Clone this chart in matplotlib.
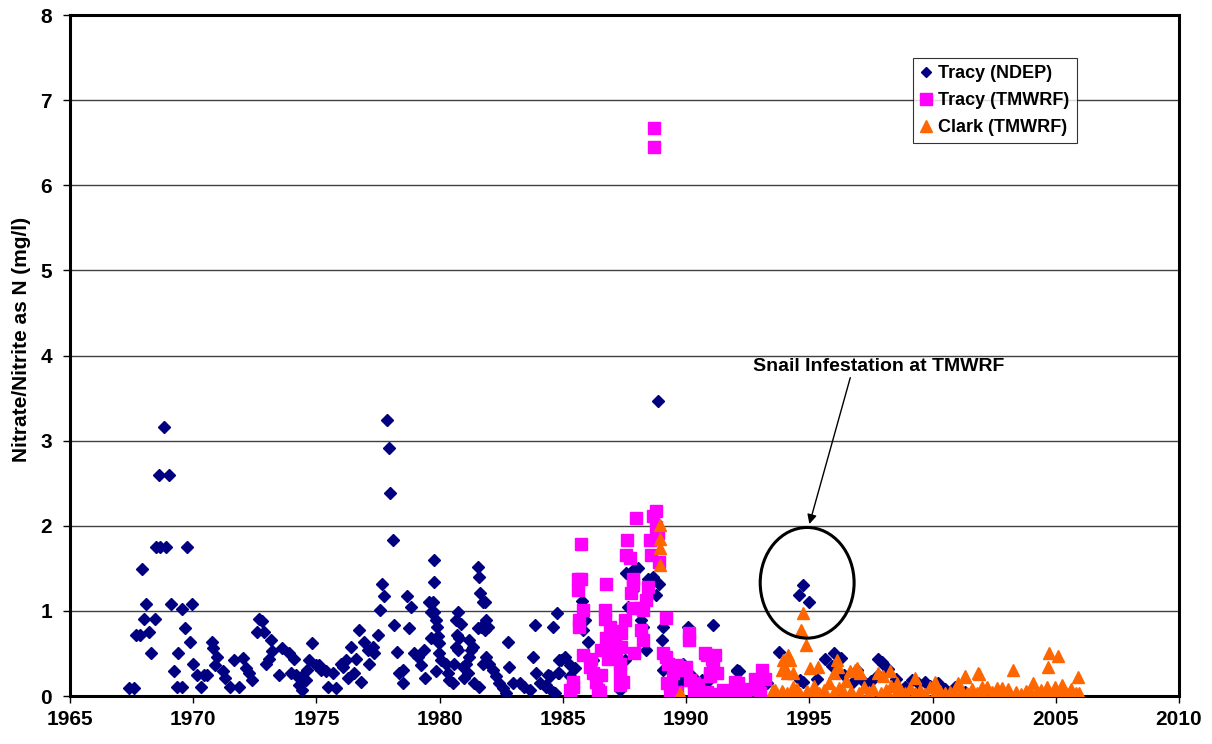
import numpy as np
import matplotlib.pyplot as plt
from matplotlib.patches import Ellipse

plt.rcParams['font.family'] = ['Liberation Sans', 'DejaVu Sans']
plt.rcParams['font.weight'] = 'bold'

# Tracy (NDEP) samples: decimal year, mg/l
ndep_year = [1967.4, 1967.6, 1968.81, 1968.59, 1969.03, 1968.47, 1968.67, 1968.9, 1969.76,
             1967.93, 1968.09, 1969.1, 1969.93, 1969.53, 1968.0, 1968.43, 1967.68, 1967.82, 1968.2, 1969.66,
             1968.29, 1969.85, 1969.39, 1969.2, 1969.35, 1969.55,
             1970.0, 1970.16, 1970.43, 1970.57, 1970.3, 1970.75, 1970.8, 1970.97, 1970.9, 1971.2, 1971.3,
             1971.5, 1971.85, 1971.65, 1972.0, 1972.13, 1972.26, 1972.4,
             1972.67, 1972.8, 1972.57, 1972.87, 1973.17, 1973.2, 1973.08, 1972.97,
             1973.62, 1973.89, 1974.09, 1973.48, 1973.96, 1974.16, 1974.43, 1974.3, 1974.43,
             1974.8, 1974.7, 1974.97, 1974.63, 1974.57,
             1975.11, 1975.17, 1975.38, 1975.65, 1975.45, 1975.78,
             1975.99, 1976.06, 1976.19, 1976.4, 1976.6, 1976.26, 1976.53, 1976.8, 1976.73,
             1976.93, 1977.07, 1977.28, 1977.35, 1977.14, 1977.48, 1977.57, 1977.64, 1977.74,
             1977.85, 1977.93, 1977.98, 1978.09, 1978.15, 1978.25, 1978.36, 1978.5, 1978.5,
             1978.66, 1978.83, 1978.76, 1978.97, 1979.1, 1979.24, 1979.38, 1979.42,
             1979.78, 1979.76, 1979.58, 1979.72, 1979.65, 1979.78, 1979.85, 1979.89,
             1979.65, 1979.92, 1979.99, 1979.99, 1980.05, 1979.85,
             1980.26, 1980.33, 1980.39, 1980.53, 1980.6,
             1980.73, 1980.66, 1980.87, 1980.7, 1980.8, 1980.66, 1980.73,
             1980.93, 1981.07, 1981.14, 1981.0, 1981.2, 1981.27, 1981.34, 1981.2,
             1981.41, 1981.61, 1981.57, 1981.61, 1981.65, 1981.75, 1981.85,
             1981.54, 1981.68, 1981.82, 1981.88, 1981.95,
             1981.75, 1981.88, 1982.02, 1982.15, 1982.29, 1982.42, 1982.56, 1982.7,
             1982.76, 1982.83, 1982.97, 1983.24, 1983.44, 1983.65,
             1983.78, 1983.91, 1983.85, 1984.05, 1984.32, 1984.46, 1984.59,
             1984.59, 1984.76, 1984.86, 1984.8,
             1985.07, 1984.93, 1985.27, 1985.47, 1984.86, 1984.39, 1984.32, 1984.66, 1985.27,
             1988.86, 1985.79, 1985.88, 1985.81, 1986.02, 1986.22,
             1987.03, 1986.83, 1987.51, 1987.33,
             1987.57, 1987.85, 1988.05, 1987.64, 1987.85,
             1988.18, 1988.25, 1988.39, 1988.46, 1988.66, 1988.9, 1988.77,
             1989.07, 1989.04,
             1990.08, 1991.1, 1992.14, 1990.83, 1990.22, 1989.88,
             1989.08, 1989.89, 1992.08, 1989.73, 1990.64, 1990.03,
             1994.74, 1994.56, 1994.99,
             1993.75, 1995.98, 1995.64, 1992.06, 1997.8, 1998.0, 1994.63, 1994.76,
             1997.94, 1997.8, 1996.93, 1997.26, 1999.16, 1999.7, 1996.72,
             1995.3, 1995.9, 1996.3, 1996.4, 1997.0, 1997.5, 1998.2, 1998.5, 1998.9,
             1999.4, 1999.9, 2000.2, 2000.5, 2000.9, 2001.3, 1993.0, 1993.3]
ndep_value = [0.09, 0.09, 3.16, 2.60, 2.60, 1.75, 1.75, 1.75, 1.75,
              1.49, 1.08, 1.08, 1.08, 1.02, 0.90, 0.90, 0.72, 0.72, 0.75, 0.80,
              0.50, 0.63, 0.50, 0.29, 0.10, 0.10,
              0.38, 0.25, 0.25, 0.25, 0.10, 0.64, 0.56, 0.46, 0.36, 0.29, 0.21,
              0.10, 0.10, 0.42, 0.45, 0.33, 0.27, 0.19,
              0.90, 0.88, 0.75, 0.75, 0.66, 0.53, 0.44, 0.38,
              0.56, 0.50, 0.44, 0.25, 0.27, 0.25, 0.23, 0.13, 0.07,
              0.62, 0.42, 0.36, 0.31, 0.19,
              0.36, 0.31, 0.29, 0.27, 0.11, 0.09,
              0.38, 0.34, 0.42, 0.58, 0.44, 0.21, 0.27, 0.17, 0.78,
              0.64, 0.54, 0.58, 0.50, 0.38, 0.72, 1.01, 1.32, 1.17,
              3.24, 2.91, 2.39, 1.83, 0.84, 0.52, 0.27, 0.31, 0.15,
              1.18, 1.04, 0.80, 0.50, 0.46, 0.36, 0.54, 0.21,
              1.60, 1.34, 1.11, 1.11, 0.99, 0.99, 0.89, 0.81,
              0.68, 0.70, 0.62, 0.50, 0.42, 0.29,
              0.38, 0.27, 0.19, 0.15, 0.38,
              0.99, 0.89, 0.85, 0.72, 0.68, 0.58, 0.54,
              0.34, 0.38, 0.27, 0.21, 0.46, 0.54, 0.58, 0.66,
              0.15, 0.11, 1.51, 1.40, 1.21, 1.11, 1.11,
              0.80, 0.81, 0.78, 0.89, 0.81,
              0.38, 0.46, 0.38, 0.31, 0.23, 0.15, 0.09, 0.03,
              0.64, 0.34, 0.15, 0.15, 0.11, 0.07,
              0.46, 0.27, 0.84, 0.15, 0.11, 0.23, 0.05,
              0.81, 0.98, 0.42, 0.27,
              0.46, 0.42, 0.36, 0.33, 0.27, 0.25, 0.13, 0.03, 0.23,
              3.47, 1.12, 0.89, 0.78, 0.64, 0.42,
              0.70, 0.54, 0.42, 0.07,
              1.45, 1.48, 1.50, 1.05, 1.25,
              0.89, 0.81, 0.54, 1.38, 1.40, 1.32, 1.19,
              0.81, 0.66,
              0.81, 0.83, 0.29, 0.17, 0.23, 0.19,
              0.31, 0.38, 0.29, 0.19, 0.19, 0.23,
              1.30, 1.19, 1.11,
              0.52, 0.51, 0.43, 0.30, 0.43, 0.38, 0.19, 0.17,
              0.40, 0.25, 0.31, 0.15, 0.19, 0.17, 0.15,
              0.20, 0.35, 0.45, 0.25, 0.22, 0.18, 0.32, 0.20, 0.10,
              0.15, 0.12, 0.15, 0.08, 0.10, 0.05, 0.10, 0.15]

# Tracy (TMWRF)
tmwrf_year = [1988.7, 1988.7, 1988.79, 1988.66, 1987.98, 1988.79, 1988.86, 1988.52, 1985.74, 1987.6,
              1987.57, 1987.74, 1988.59, 1988.9,
              1987.85, 1987.85, 1985.61, 1985.74, 1985.61, 1986.73, 1988.46, 1987.78, 1988.39,
              1987.85, 1988.12, 1988.25, 1987.51, 1985.81, 1986.69, 1986.69, 1985.67, 1985.67,
              1986.89, 1987.16, 1987.37, 1989.2, 1988.18, 1988.25,
              1986.76, 1987.1, 1986.89, 1987.37, 1986.56, 1987.16, 1986.83,
              1990.12, 1990.12,
              1985.81, 1986.15, 1986.09, 1986.22, 1986.56, 1986.36, 1986.42, 1985.41, 1985.41,
              1987.3, 1987.3, 1987.44, 1987.3,
              1989.07, 1989.2, 1989.27, 1989.61, 1989.47, 1989.74,
              1989.4, 1989.34, 1989.61, 1990.01, 1990.15, 1990.49, 1990.83, 1991.17, 1991.1, 1991.24,
              1990.97, 1990.83, 1991.5, 1991.78, 1992.11, 1992.18,
              1990.77, 1991.04, 1989.62, 1990.97, 1993.07, 1991.99, 1989.22, 1990.3,
              1989.5, 1990.3, 1990.7, 1991.3, 1991.6, 1992.0, 1992.4, 1992.6, 1992.9, 1993.0,
              1993.2, 1992.8, 1985.3, 1987.9, 1986.5]
tmwrf_value = [6.67, 6.45, 2.17, 2.11, 2.09, 1.99, 1.91, 1.83, 1.78, 1.83,
               1.66, 1.62, 1.66, 1.58,
               1.38, 1.32, 1.38, 1.38, 1.25, 1.32, 1.28, 1.21, 1.13,
               1.03, 1.03, 1.01, 0.89, 1.01, 1.01, 0.91, 0.89, 0.81,
               0.81, 0.76, 0.74, 0.92, 0.78, 0.66,
               0.68, 0.62, 0.58, 0.58, 0.54, 0.50, 0.44,
               0.74, 0.66,
               0.48, 0.44, 0.34, 0.27, 0.25, 0.17, 0.07, 0.17, 0.11,
               0.38, 0.27, 0.17, 0.13,
               0.50, 0.46, 0.38, 0.36, 0.27, 0.31,
               0.13, 0.05, 0.05, 0.34, 0.19, 0.13, 0.48, 0.48, 0.36, 0.27,
               0.23, 0.05, 0.07, 0.05, 0.15, 0.05,
               0.50, 0.44, 0.34, 0.27, 0.31, 0.17, 0.15, 0.15,
               0.03, 0.03, 0.04, 0.02, 0.03, 0.06, 0.03, 0.08, 0.12, 0.04,
               0.20, 0.20, 0.07, 0.50, 0.05]

# Clark (TMWRF)
clark_year = [1988.92, 1988.92, 1988.92, 1988.92, 1989.74,
              1994.75, 1994.67, 1994.87,
              1994.15, 1994.22, 1994.01, 1994.35, 1995.03, 1995.37, 1996.11, 1996.18, 1995.98,
              1996.65, 1996.92, 1997.06, 1997.8, 1998.28, 1993.6, 1993.94,
              1993.54, 1993.95, 1993.88, 1994.08, 1994.35,
              1996.86, 1998.0, 1998.55, 1999.29, 2000.1, 2001.32, 2001.86, 2001.05, 2002.2, 2002.6,
              2004.74, 2005.1, 2004.7, 2003.25, 2001.9, 2005.91, 2001.32, 2004.06, 2004.63, 2005.24,
              2004.97, 2001.05, 2002.0, 2002.2, 2002.8, 2003.07,
              1993.5, 1993.7, 1993.9, 1994.1, 1994.3, 1994.5, 1994.6, 1994.9, 1995.1, 1995.2,
              1995.4, 1995.6, 1995.8, 1996.0, 1996.2, 1996.4, 1996.5, 1996.7, 1997.0, 1997.2,
              1997.4, 1997.6, 1997.9, 1998.1, 1998.3, 1998.5, 1998.7, 1998.9, 1999.1, 1999.3,
              1999.5, 1999.7, 1999.9, 2000.1, 2000.3, 2000.5, 2000.7, 2000.9, 2001.2, 2001.4,
              2001.6, 2001.8, 2002.0, 2002.4, 2002.6, 2002.9, 2003.1, 2003.4, 2003.6, 2003.8,
              2004.0, 2004.2, 2004.4, 2004.6, 2004.9, 2005.2, 2005.4, 2005.6, 2005.8, 2005.95]
clark_value = [2.01, 1.85, 1.74, 1.54, 0.03,
               0.97, 0.78, 0.60,
               0.48, 0.42, 0.33, 0.27, 0.33, 0.34, 0.42, 0.34, 0.27,
               0.29, 0.33, 0.27, 0.27, 0.29, 0.07, 0.03,
               0.07, 0.42, 0.31, 0.27, 0.11,
               0.31, 0.23, 0.15, 0.21, 0.17, 0.23, 0.27, 0.15, 0.11, 0.09,
               0.50, 0.47, 0.34, 0.30, 0.26, 0.22, 0.22, 0.15, 0.11, 0.13,
               0.11, 0.13, 0.11, 0.09, 0.09, 0.08,
               0.04, 0.02, 0.06, 0.03, 0.05, 0.08, 0.02, 0.06, 0.04, 0.12,
               0.03, 0.07, 0.15, 0.05, 0.09, 0.03, 0.18, 0.06, 0.04, 0.11,
               0.05, 0.08, 0.03, 0.07, 0.12, 0.04, 0.06, 0.03, 0.09, 0.04,
               0.07, 0.02, 0.10, 0.04, 0.06, 0.03, 0.05, 0.02, 0.06, 0.03,
               0.08, 0.04, 0.03, 0.05, 0.02, 0.04, 0.03, 0.05, 0.02, 0.06,
               0.04, 0.03, 0.07, 0.03, 0.04, 0.05, 0.03, 0.08, 0.04, 0.03]

fig = plt.figure(figsize=(12.12, 7.44), dpi=100)
ax = fig.add_axes([0.0578, 0.0645, 0.915, 0.9153])

ax.plot(ndep_year, ndep_value, 'D', color='#000080', ms=6, mec='#000080', ls='none',
        label='Tracy (NDEP)', zorder=3)
ax.plot(tmwrf_year, tmwrf_value, 's', color='#FF00FF', ms=9, mec='#FF00FF', ls='none',
        label='Tracy (TMWRF)', zorder=4)
ax.plot(clark_year, clark_value, '^', color='#FF6600', ms=9, mec='#FF6600', ls='none',
        label='Clark (TMWRF)', zorder=5)

ax.set_xlim(1965, 2010)
ax.set_ylim(0, 8)
ax.set_xticks(np.arange(1965, 2011, 5))
ax.set_yticks(np.arange(0, 9, 1))
ax.yaxis.grid(True, color='#404040', lw=1)
ax.set_axisbelow(True)
for s in ax.spines.values():
    s.set_linewidth(2.2)
ax.tick_params(labelsize=15, direction='out', length=5, width=1)
ax.tick_params(axis='x', pad=5)
ax.tick_params(axis='y', pad=8)
for lab in ax.get_xticklabels() + ax.get_yticklabels():
    lab.set_fontweight('bold')
ax.set_ylabel('Nitrate/Nitrite as N (mg/l)', fontsize=15, fontweight='bold')
ax.yaxis.set_label_coords(-0.0354, 0.523)

# snail infestation callout
ax.add_patch(Ellipse((1994.91, 1.33), 3.81, 1.30, fill=False, ec='black', lw=2.2, zorder=6))
ax.text(1997.8, 3.87, 'Snail Infestation at TMWRF', ha='center', va='center',
        fontsize=14, fontweight='bold')
ax.annotate('', xy=(1995.0, 2.02), xytext=(1996.66, 3.74),
            arrowprops=dict(arrowstyle='-|>', color='black', lw=1, shrinkA=0, shrinkB=0,
                            mutation_scale=14))

leg = ax.legend(loc='upper left', bbox_to_anchor=(0.7601, 0.9369), borderaxespad=0,
                fontsize=13, frameon=True, fancybox=False, edgecolor='black',
                handlelength=0.6, handletextpad=0.4, borderpad=0.4, labelspacing=0.55,
                markerscale=0.9)
leg.get_frame().set_linewidth(0.8)
for t in leg.get_texts():
    t.set_fontweight('bold')

fig.savefig('out.png', dpi=100)
